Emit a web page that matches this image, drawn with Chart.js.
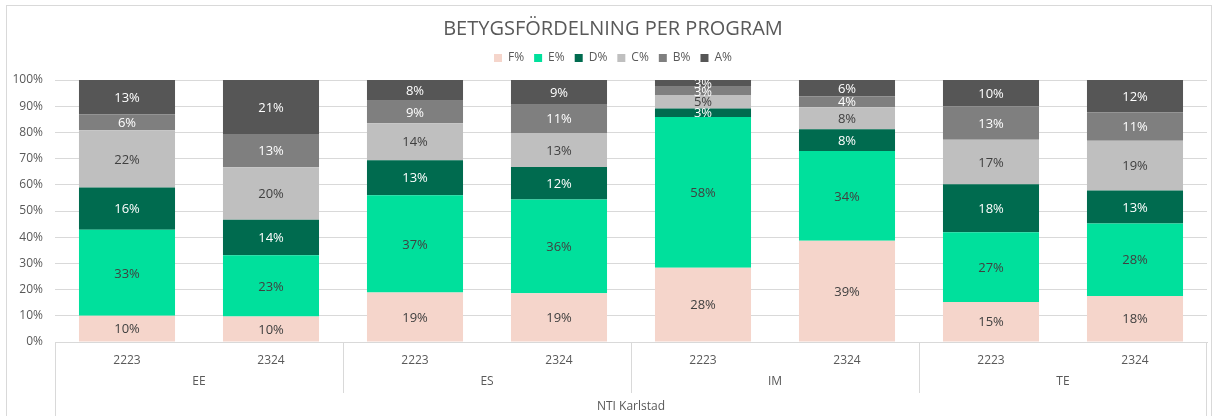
<!DOCTYPE html>
<html>
<head>
<meta charset="utf-8">
<script src="https://cdn.jsdelivr.net/npm/chart.js@4"></script>
<style>
  html, body { margin: 0; padding: 0; background: #fff; }
  #wrap { width: 1214px; height: 416px; position: relative; }
</style>
</head>
<body>
<div id="wrap"><canvas id="betygChart"></canvas></div>
<script>
// kategorier (läsår per program) och grupper
var ar = ['2223', '2324', '2223', '2324', '2223', '2324', '2223', '2324'];
var program = ['EE', 'ES', 'IM', 'TE'];
var skola = 'NTI Karlstad';

// andel per betyg (%)
var fProcent = [10.0, 9.7, 18.9, 18.6, 28.3, 38.6, 15.3, 17.6];
var eProcent = [32.8, 23.4, 37.1, 35.8, 57.6, 34.3, 26.6, 27.6];
var dProcent = [16.2, 13.6, 13.4, 12.4, 3.2, 8.3, 18.3, 12.6];
var cProcent = [21.8, 20.0, 14.1, 13.0, 5.2, 8.4, 17.0, 19.0];
var bProcent = [6.0, 12.7, 8.6, 10.8, 3.1, 4.2, 12.8, 10.9];
var aProcent = [13.2, 20.6, 7.9, 9.4, 2.6, 6.2, 10.0, 12.3];

var yTicks = [0, 10, 20, 30, 40, 50, 60, 70, 80, 90, 100];

var typsnitt = "'Century Gothic', 'Open Sans', sans-serif";
var gra = '#595959';
var linje = '#D9D9D9';

function serie(namn, data, farg, textFarg) {
    return {
        label: namn,
        data: data,
        backgroundColor: farg,
        borderWidth: 0,
        textFarg: textFarg
    };
}

var chartData = {
    labels: ar,
    datasets: [
        serie('F%', fProcent, '#F5D5CB', '#404040'),
        serie('E%', eProcent, '#00E09C', '#404040'),
        serie('D%', dProcent, '#006B4F', '#FFFFFF'),
        serie('C%', cProcent, '#BFBFBF', '#404040'),
        serie('B%', bProcent, '#7F7F7F', '#FFFFFF'),
        serie('A%', aProcent, '#565656', '#FFFFFF')
    ]
};

// etiketter mitt i varje segment
var segmentEtiketter = {
    id: 'segmentEtiketter',
    afterDatasetsDraw: function (chart) {
        var ctx = chart.ctx;
        ctx.save();
        ctx.font = '13px ' + typsnitt;
        ctx.textAlign = 'center';
        ctx.textBaseline = 'middle';
        chart.data.datasets.forEach(function (ds, i) {
            var meta = chart.getDatasetMeta(i);
            if (meta.hidden) return;
            ctx.fillStyle = ds.textFarg;
            meta.data.forEach(function (bar, j) {
                var y = (bar.y + bar.base) / 2;
                ctx.fillText(Math.round(ds.data[j]) + '%', bar.x, y + 1);
            });
        });
        ctx.restore();
    }
};

// ram runt diagrammet
var ram = {
    id: 'ram',
    beforeDraw: function (chart) {
        var ctx = chart.ctx;
        ctx.save();
        ctx.strokeStyle = linje;
        ctx.lineWidth = 1;
        ctx.strokeRect(6.5, 5.5, chart.width - 9, chart.height + 10);
        ctx.restore();
    }
};

// flernivåaxel: program och skola under läsåren
var gruppAxel = {
    id: 'gruppAxel',
    afterDraw: function (chart) {
        var ctx = chart.ctx;
        var x = chart.scales.x;
        var steg = x.getPixelForValue(1) - x.getPixelForValue(0);
        var topp = chart.chartArea.bottom;
        var gruppRad = topp + 40;
        var skolRad = topp + 65;
        var gruppBotten = topp + 51;
        var vanster = x.getPixelForValue(0) - steg / 2;
        var hoger = x.getPixelForValue(ar.length - 1) + steg / 2;

        ctx.save();
        ctx.strokeStyle = linje;
        ctx.lineWidth = 1;
        ctx.beginPath();
        ctx.moveTo(Math.round(vanster) + 0.5, topp);
        ctx.lineTo(Math.round(vanster) + 0.5, chart.height);
        ctx.moveTo(Math.round(hoger) - 0.5, topp);
        ctx.lineTo(Math.round(hoger) - 0.5, chart.height);
        for (var g = 1; g < program.length; g++) {
            var px = Math.round(x.getPixelForValue(g * 2) - steg / 2) + 0.5;
            ctx.moveTo(px, topp);
            ctx.lineTo(px, gruppBotten);
        }
        ctx.stroke();

        ctx.fillStyle = gra;
        ctx.font = '12px ' + typsnitt;
        ctx.textAlign = 'center';
        ctx.textBaseline = 'middle';
        program.forEach(function (p, g) {
            var mitt = (x.getPixelForValue(g * 2) + x.getPixelForValue(g * 2 + 1)) / 2;
            ctx.fillText(p, mitt, gruppRad);
        });
        ctx.fillText(skola, (vanster + hoger) / 2, skolRad);
        ctx.restore();
    }
};

// tomma axlar som bara ger marginaler
function marginal(position, storlek) {
    return {
        type: 'linear',
        position: position,
        display: true,
        grid: { display: false },
        border: { display: false },
        ticks: { display: false },
        afterFit: function (scale) {
            if (position === 'top') scale.height = storlek;
            else scale.width = storlek;
        }
    };
}

var ctx = document.getElementById('betygChart').getContext('2d');

var betygChart = new Chart(ctx, {
    type: 'bar',
    data: chartData,
    plugins: [ram, segmentEtiketter, gruppAxel],
    options: {
        responsive: true,
        maintainAspectRatio: false,
        animation: false,
        // stapeln tar 2/3 av kategorin (Excel: 50 % mellanrum)
        datasets: {
            bar: { categoryPercentage: 1, barPercentage: 0.667 }
        },
        layout: {
            padding: { left: 12, right: 0, top: 0, bottom: 0 }
        },
        plugins: {
            title: {
                display: true,
                text: 'BETYGSFÖRDELNING PER PROGRAM',
                color: gra,
                font: { family: typsnitt, size: 20, weight: 'normal' },
                padding: { top: 17, bottom: 1 }
            },
            legend: {
                position: 'top',
                labels: {
                    color: gra,
                    font: { family: typsnitt, size: 12 },
                    boxWidth: 8,
                    boxHeight: 8,
                    padding: 10
                }
            },
            tooltip: { enabled: false }
        },
        scales: {
            x: {
                stacked: true,
                grid: { display: false },
                border: { color: linje },
                ticks: {
                    color: gra,
                    font: { family: typsnitt, size: 12 },
                    padding: 3,
                    maxRotation: 0
                },
                afterFit: function (scale) { scale.height = 74; }
            },
            y: {
                stacked: true,
                min: 0,
                max: 100,
                afterBuildTicks: function (scale) {
                    scale.ticks = yTicks.map(function (v) { return { value: v }; });
                },
                grid: { color: linje, drawTicks: false },
                border: { display: false },
                ticks: {
                    color: gra,
                    font: { family: typsnitt, size: 12 },
                    padding: 12,
                    callback: function (v) { return v + '%'; }
                },
                afterFit: function (scale) { scale.width = 43; }
            },
            hogerMarginal: marginal('right', 7),
            toppMarginal: marginal('top', 6)
        }
    }
});
</script>
</body>
</html>
